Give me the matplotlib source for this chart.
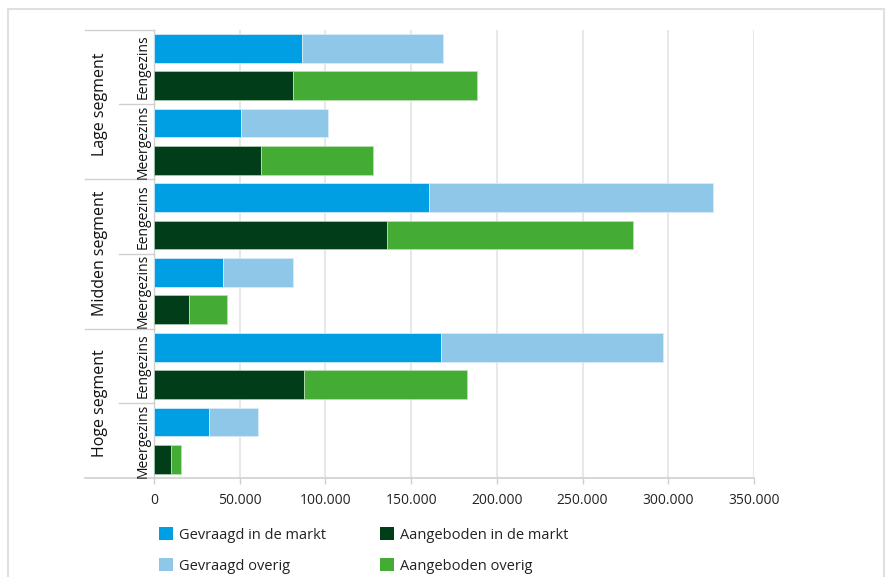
import matplotlib
matplotlib.use("Agg")
import matplotlib.pyplot as plt
from matplotlib.patches import Rectangle, Patch
from matplotlib.lines import Line2D
from matplotlib.ticker import FuncFormatter

plt.rcParams['font.family'] = ['Open Sans', 'DejaVu Sans']

segments = ["Lage segment", "Midden segment", "Hoge segment"]
types = ["Eengezins", "Meergezins"]
# order top to bottom: per segment, per type: gevraagd then aangeboden
gevraagd_markt = [86600, 50700, 160500, 40400, 167500, 32200]
gevraagd_totaal = [168500, 101400, 326100, 80800, 296700, 60600]
aangeboden_markt = [81000, 62600, 136200, 20600, 87600, 10100]
aangeboden_totaal = [188300, 127700, 279600, 42600, 182600, 15900]
gevraagd_overig = [t - m for t, m in zip(gevraagd_totaal, gevraagd_markt)]
aangeboden_overig = [t - m for t, m in zip(aangeboden_totaal, aangeboden_markt)]

xticks = [0, 50000, 100000, 150000, 200000, 250000, 300000, 350000]
legend_labels = ["Gevraagd in de markt", "Gevraagd overig",
                 "Aangeboden in de markt", "Aangeboden overig"]

c_gm = "#009fe3"
c_go = "#8fc7e8"
c_am = "#023d19"
c_ao = "#44ac34"

W, H = 888, 577
fig = plt.figure(figsize=(W / 100, H / 100), dpi=100)
ax_l, ax_r, ax_t, ax_b = 154, 754, 29.5, 478
ax = fig.add_axes([ax_l / W, 1 - ax_b / H, (ax_r - ax_l) / W, (ax_b - ax_t) / H])

n = 12
bh = 0.77
for i in range(6):
    yg = 2 * i
    ya = 2 * i + 1
    ax.barh(yg, gevraagd_markt[i], height=bh, color=c_gm, edgecolor="#cfe9f7", linewidth=0.6, zorder=3)
    ax.barh(yg, gevraagd_overig[i], left=gevraagd_markt[i], height=bh, color=c_go, edgecolor="#d8ecf7", linewidth=0.6, zorder=3)
    ax.barh(ya, aangeboden_markt[i], height=bh, color=c_am, edgecolor="#a9c9b0", linewidth=0.6, zorder=3)
    ax.barh(ya, aangeboden_overig[i], left=aangeboden_markt[i], height=bh, color=c_ao, edgecolor="#b7dfb0", linewidth=0.6, zorder=3)

ax.set_ylim(n - 0.5, -0.5)
ax.set_xlim(0, 350000)
ax.set_xticks(xticks)
ax.xaxis.set_major_formatter(FuncFormatter(lambda v, p: f"{int(v):,}".replace(",", ".")))
ax.set_yticks([])
ax.grid(axis="x", color="#e8e8e8", linewidth=1.5, zorder=0)
for s in ["top", "right", "bottom"]:
    ax.spines[s].set_visible(False)
ax.spines["left"].set_color("#d0d0d0")
ax.spines["left"].set_linewidth(1.0)
ax.tick_params(axis="x", length=4, width=1, color="#d0d0d0", labelsize=10, labelcolor="#222222", pad=7)

# category label structure (axes y-data, x in axes fraction)
trans = ax.get_yaxis_transform()
x_outer = (85 - ax_l) / (ax_r - ax_l)
x_inner = (119 - ax_l) / (ax_r - ax_l)
x_sub = (143 - ax_l) / (ax_r - ax_l)
x_grp = (100 - ax_l) / (ax_r - ax_l)
line_kw = dict(color="#d0d0d0", linewidth=1.0, transform=trans, clip_on=False)
for g in range(3):
    top = 4 * g - 0.5
    ax.add_line(Line2D([x_outer, 0], [top, top], **line_kw))
    ax.add_line(Line2D([x_inner, 0], [top + 2, top + 2], **line_kw))
    ax.text(x_grp, top + 2, segments[g], rotation=90, ha="center", va="center",
            fontsize=11.5, color="#111111", transform=trans)
    for t in range(2):
        ax.text(x_sub, top + 2 * t + 1, types[t], rotation=90, ha="center", va="center",
                fontsize=10, color="#111111", transform=trans)
ax.add_line(Line2D([x_outer, 1], [n - 0.5, n - 0.5], color="#d0d0d0", linewidth=1.2, transform=trans, clip_on=False))

# legend
handles = [Patch(facecolor=c_gm), Patch(facecolor=c_go), Patch(facecolor=c_am), Patch(facecolor=c_ao)]
leg = fig.legend(handles, legend_labels, ncol=2, loc="upper left",
                 bbox_to_anchor=(153 / W, 1 - 521.5 / H), frameon=False,
                 fontsize=10.5, handlelength=0.95, handleheight=0.95, handletextpad=0.4,
                 columnspacing=3.75, labelspacing=1.08, borderaxespad=0)
for t in leg.get_texts():
    t.set_color("#222222")

# outer frame
fig.add_artist(Rectangle((8 / W, -0.1), (884 - 8) / W, 1.1 - 9 / H, transform=fig.transFigure,
                         fill=False, edgecolor="#e0e0e0", linewidth=1.5))

fig.savefig("out.png", dpi=100)
